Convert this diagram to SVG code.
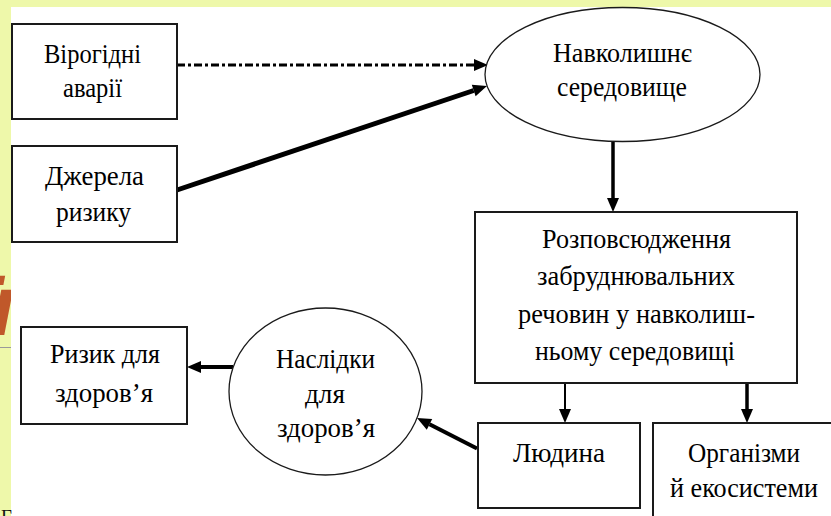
<svg xmlns="http://www.w3.org/2000/svg" width="831" height="516" viewBox="0 0 831 516">
  <style>
    .box { fill: #ffffff; stroke: #1a1a1a; stroke-width: 2; }
    .oval { fill: #ffffff; stroke: #1a1a1a; stroke-width: 1.3; }
    .edge { fill: none; stroke: #000000; stroke-linecap: butt; }
  </style>
  <defs>
    <marker id="head" markerUnits="userSpaceOnUse" markerWidth="15" markerHeight="13" refX="0" refY="6" orient="auto" overflow="visible">
      <path d="M0,0 L14,6 L0,12 z" fill="#000000"/>
    </marker>
  </defs>

  <!-- page background and slide margin -->
  <rect x="0" y="0" width="831" height="516" fill="#eef8aa"/>
  <text x="-9" y="335" font-family="Liberation Sans" font-size="86" font-weight="bold" font-style="italic" fill="#c0582a">ї</text>
  <rect x="11" y="7" width="820" height="509" fill="#ffffff"/>
  <line x1="0" y1="347.5" x2="11" y2="347.5" stroke="#9a9a9a" stroke-width="1"/>
  <text x="1" y="523" font-family="Liberation Serif" font-size="19" fill="#111111">Г</text>

  <!-- connectors -->
  <g id="connectors">
    <line class="edge" x1="177" y1="65" x2="474" y2="65" stroke-width="3" stroke-dasharray="8 3 3 3" marker-end="url(#head)"/>
    <line class="edge" x1="177" y1="190" x2="473.7" y2="90.5" stroke-width="5" marker-end="url(#head)"/>
    <line class="edge" x1="613" y1="141" x2="613" y2="198" stroke-width="3.5" marker-end="url(#head)"/>
    <line class="edge" x1="565" y1="383" x2="565" y2="409" stroke-width="2" marker-end="url(#head)"/>
    <line class="edge" x1="747" y1="383" x2="747" y2="409" stroke-width="3.5" marker-end="url(#head)"/>
    <line class="edge" x1="477" y1="448.5" x2="429.5" y2="424.3" stroke-width="4" marker-end="url(#head)"/>
    <line class="edge" x1="233" y1="367" x2="201" y2="367" stroke-width="4" marker-end="url(#head)"/>
  </g>

  <!-- nodes; labels share one serif face -->
  <g font-family="Liberation Serif" font-size="28" fill="#000000">
  <g id="node-accidents">
    <rect class="box" x="12" y="24" width="165" height="95"/>
    <text x="44" y="63" textLength="97" lengthAdjust="spacingAndGlyphs">Вірогідні</text>
    <text x="63" y="97" textLength="59" lengthAdjust="spacingAndGlyphs">аварії</text>
  </g>

  <g id="node-sources">
    <rect class="box" x="12" y="146" width="165" height="96"/>
    <text x="45" y="185" textLength="99" lengthAdjust="spacingAndGlyphs">Джерела</text>
    <text x="56" y="221" textLength="75" lengthAdjust="spacingAndGlyphs">ризику</text>
  </g>

  <g id="node-environment">
    <ellipse class="oval" cx="622.5" cy="74.5" rx="137.5" ry="67"/>
    <text x="553" y="62" textLength="139" lengthAdjust="spacingAndGlyphs">Навколишнє</text>
    <text x="557" y="96" textLength="130" lengthAdjust="spacingAndGlyphs">середовище</text>
  </g>

  <g id="node-spread">
    <rect class="box" x="475" y="212" width="322" height="171"/>
    <text x="542" y="248" textLength="189" lengthAdjust="spacingAndGlyphs">Розповсюдження</text>
    <text x="537" y="285" textLength="198" lengthAdjust="spacingAndGlyphs">забруднювальних</text>
    <text x="518" y="323" textLength="237" lengthAdjust="spacingAndGlyphs">речовин у навколиш-</text>
    <text x="535" y="360" textLength="200" lengthAdjust="spacingAndGlyphs">ньому середовищі</text>
  </g>

  <g id="node-human">
    <rect class="box" x="478" y="423" width="162" height="85"/>
    <text x="513" y="462" textLength="92" lengthAdjust="spacingAndGlyphs">Людина</text>
  </g>

  <g id="node-organisms">
    <rect class="box" x="653" y="423" width="200" height="120"/>
    <text x="688" y="462" textLength="112" lengthAdjust="spacingAndGlyphs">Організми</text>
    <text x="670" y="497" textLength="148" lengthAdjust="spacingAndGlyphs">й екосистеми</text>
  </g>

  <g id="node-consequences">
    <ellipse class="oval" cx="325.5" cy="391.5" rx="96.5" ry="83.5"/>
    <text x="276" y="368" textLength="99" lengthAdjust="spacingAndGlyphs">Наслідки</text>
    <text x="305" y="403" textLength="40" lengthAdjust="spacingAndGlyphs">для</text>
    <text x="277" y="437" textLength="98" lengthAdjust="spacingAndGlyphs">здоров’я</text>
  </g>

  <g id="node-health-risk">
    <rect class="box" x="21" y="327" width="166" height="97"/>
    <text x="50" y="363" textLength="110" lengthAdjust="spacingAndGlyphs">Ризик для</text>
    <text x="55" y="402" textLength="98" lengthAdjust="spacingAndGlyphs">здоров’я</text>
  </g>
  </g>
</svg>
